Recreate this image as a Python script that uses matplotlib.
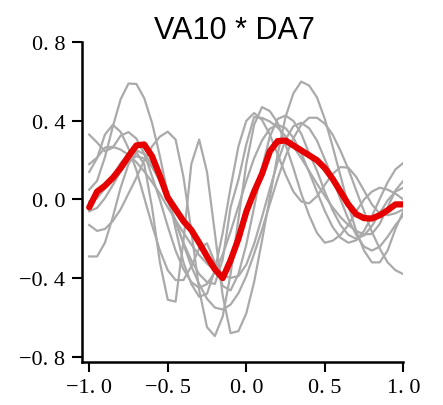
import numpy as np
import matplotlib
matplotlib.use('Agg')
import matplotlib.pyplot as plt

# sample positions (step 0.05 from -1 to 1)
x = np.linspace(-1, 1, 41)

# gray individual curves
curve_n = [-0.29, -0.29, -0.22, -0.09, 0.06, 0.18, 0.24, 0.18, -0.04, -0.32, -0.51,
           -0.52, -0.21, 0.18, 0.305, 0.14, -0.17, -0.49, -0.68, -0.67, -0.58,
           -0.42, -0.21, 0.01, 0.23, 0.42, 0.54, 0.60, 0.58, 0.52, 0.41,
           0.27, 0.12, -0.03, -0.16, -0.26, -0.32, -0.32, -0.26, -0.15, -0.06]
curve_b = [-0.13, -0.16, -0.15, -0.11, -0.05, 0.03, 0.11, 0.20, 0.27, 0.32, 0.345,
           0.305, 0.115, -0.16, -0.46, -0.65, -0.695, -0.595, -0.38, -0.10, 0.18,
           0.38, 0.47, 0.45, 0.39, 0.28, 0.16, 0.03, -0.08, -0.17, -0.22,
           -0.21, -0.18, -0.13, -0.06, 0.0, 0.04, 0.06, 0.05, 0.03, 0.0]
curve_1 = [0.05, 0.095, 0.215, 0.37, 0.51, 0.59, 0.588, 0.516, 0.39, 0.22, 0.03,
           -0.15, -0.32, -0.43, -0.495, -0.48, -0.36, -0.17, 0.06, 0.27, 0.40,
           0.44, 0.405, 0.33, 0.23, 0.127, 0.04, -0.01, -0.02, 0.016, 0.075,
           0.13, 0.165, 0.162, 0.115, 0.045, -0.025, -0.072, -0.08, -0.07, -0.05]
curve_2 = [0.14, 0.21, 0.33, 0.38, 0.344, 0.26, 0.15, 0.01, -0.13, -0.26, -0.36,
           -0.41, -0.41, -0.34, -0.25, -0.223, -0.32, -0.44, -0.463, -0.38, -0.23,
           -0.04, 0.16, 0.32, 0.41, 0.427, 0.40, 0.335, 0.235, 0.147, 0.04,
           -0.055, -0.13, -0.18, -0.20, -0.183, -0.135, -0.07, -0.005, 0.04, 0.06]
curve_3 = [0.33, 0.29, 0.245, 0.264, 0.325, 0.343, 0.31, 0.234, 0.118, -0.002, -0.137,
           -0.26, -0.355, -0.42, -0.45, -0.43, -0.37, -0.28, -0.164, -0.035, 0.094,
           0.21, 0.30, 0.36, 0.38, 0.363, 0.314, 0.236, 0.14, 0.04, -0.058,
           -0.14, -0.195, -0.22, -0.208, -0.16, -0.085, 0.003, 0.087, 0.153, 0.186]
curve_4 = [-0.06, -0.043, 0.007, 0.073, 0.143, 0.195, 0.22, 0.209, 0.165, 0.094, -0.006,
           -0.112, -0.228, -0.34, -0.43, -0.505, -0.55, -0.56, -0.535, -0.477, -0.39,
           -0.276, -0.154, -0.023, 0.106, 0.22, 0.312, 0.38, 0.416, 0.416, 0.386,
           0.33, 0.248, 0.155, 0.046, -0.06, -0.165, -0.25, -0.32, -0.36, -0.38]
curve_5 = [-0.01, 0.007, 0.055, 0.12, 0.185, 0.233, 0.25, 0.232, 0.18, 0.096, -0.003,
           -0.11, -0.22, -0.31, -0.38, -0.42, -0.43, -0.306, -0.04, 0.10, 0.28,
           0.42, 0.415, 0.397, 0.366, 0.322, 0.27, 0.21, 0.146, 0.08, 0.018,
           -0.04, -0.09, -0.13, -0.16, -0.178, -0.175, -0.124, -0.04, 0.046, 0.095]
curve_6 = [0.18, 0.213, 0.264, 0.268, 0.254, 0.227, 0.19, 0.143, 0.089, 0.029, -0.04,
           -0.105, -0.169, -0.229, -0.283, -0.326, -0.363, -0.387, -0.399, -0.39, -0.332,
           -0.226, -0.09, 0.054, 0.19, 0.305, 0.373, 0.39, 0.363, 0.30, 0.205,
           0.108, 0.0, -0.10, -0.18, -0.24, -0.26, -0.24, -0.19, -0.13, -0.08]
gray_curves = [curve_n, curve_b, curve_1, curve_2, curve_3, curve_4, curve_5, curve_6]

# red average curve
mean_curve = [-0.04, 0.04, 0.07, 0.11, 0.16, 0.22, 0.275, 0.28, 0.22, 0.12, 0.01,
              -0.05, -0.11, -0.155, -0.22, -0.29, -0.355, -0.40, -0.31, -0.20, -0.063,
              0.04, 0.13, 0.245, 0.297, 0.30, 0.275, 0.25, 0.225, 0.20, 0.16,
              0.105, 0.04, -0.025, -0.075, -0.095, -0.097, -0.08, -0.055, -0.025, -0.025]

xticks = [-1.0, -0.5, 0.0, 0.5, 1.0]
yticks = [-0.8, -0.4, 0.0, 0.4, 0.8]
title = 'VA10 * DA7'


def fmt(v):
    return f'{v:.1f}'.replace('-', '\u2212').replace('.', '. ')


fig = plt.figure(figsize=(4.43, 4.06), dpi=100)
ax = fig.add_axes([0.1844, 0.1052, 0.726, 0.7882])

for g in gray_curves:
    ax.plot(x, g, color='#aaaaaa', lw=1.6, solid_joinstyle='round')
ax.plot(x, mean_curve, color='#e60000', lw=4.5,
        solid_joinstyle='round', solid_capstyle='round')

ax.set_xlim(-1.048, 1.0)
ax.set_ylim(-0.8285, 0.8)
for s in ['top', 'right']:
    ax.spines[s].set_visible(False)
for s in ['left', 'bottom']:
    ax.spines[s].set_linewidth(1.8)

ax.set_xticks(xticks)
ax.set_xticklabels([fmt(v) for v in xticks])
ax.set_yticks(yticks)
ax.set_yticklabels([fmt(v) for v in yticks])
for lbl in ax.get_xticklabels() + ax.get_yticklabels():
    lbl.set_fontfamily('Liberation Serif')
    lbl.set_fontsize(16)
ax.tick_params(axis='x', length=7, width=1.5, pad=4)
ax.tick_params(axis='y', length=7, width=1.5, pad=5)

fig.text(234 / 443, 0.904, title, ha='center', va='baseline',
         fontsize=22, family='Liberation Sans')

fig.savefig('out.png', dpi=100)
